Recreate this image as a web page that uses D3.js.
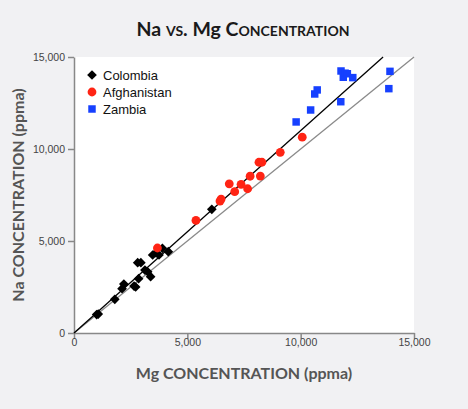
<!DOCTYPE html>
<html>
<head>
<meta charset="utf-8">
<script src="https://cdn.jsdelivr.net/npm/d3@7/dist/d3.min.js"></script>
<style>
  body { margin: 0; background: #f1f1f3; }
  svg { display: block; }
</style>
</head>
<body>
<div id="chart"></div>
<script>
// Mg / Na concentrations (ppma)
const colombiaMg = [1070, 1000, 1800, 2120, 2200, 2650, 2720, 2850, 2810, 2950, 3130, 3250, 3380, 3470, 3620, 3750, 3900, 4160, 6080]
const colombiaNa = [1030, 1000, 1830, 2410, 2660, 2550, 2500, 2950, 3820, 3820, 3420, 3330, 3060, 4240, 4360, 4240, 4600, 4420, 6720]

const afghanMg = [3680, 5380, 6440, 6490, 6850, 7090, 7370, 7660, 7770, 8160, 8220, 8290, 9100, 10070]
const afghanNa = [4620, 6120, 7170, 7280, 8110, 7680, 8080, 7840, 8520, 9280, 8530, 9280, 9820, 10640]

const zambiaMg = [9800, 10440, 10620, 10730, 11770, 11780, 11880, 11960, 12060, 12300, 13890, 13940]
const zambiaNa = [11470, 12120, 12990, 13210, 12570, 14240, 13900, 14120, 14090, 13880, 13280, 14220]

const xTicks = [0, 5000, 10000, 15000]
const yTicks = [0, 5000, 10000, 15000]

// reference lines: Colombia trend (Na = 1.1 Mg) and 1:1 line
const trendLine = [[0, 0], [15000 / 1.1, 15000]]
const unityLine = [[0, 0], [15000, 15000]]

const zip = (xs, ys) => xs.map((x, i) => ({ mg: x, na: ys[i] }))

const W = 468, H = 409
const margin = { top: 57, right: 54, bottom: 76, left: 74 }
const iw = W - margin.left - margin.right
const ih = H - margin.top - margin.bottom

const svg = d3.select("#chart").append("svg")
  .attr("width", W)
  .attr("height", H)

svg.append("rect").attr("width", W).attr("height", H).attr("fill", "#f1f1f3")

// title: element symbols in normal case, the rest in small caps
const title = svg.append("text")
  .attr("x", 243)
  .attr("y", 36)
  .attr("text-anchor", "middle")
  .style("font-family", "Lato, 'Open Sans', sans-serif")
  .style("font-weight", "bold")
  .style("font-size", "19.5px")
  .attr("fill", "#1a1a1a")
title.append("tspan").text("Na ")
title.append("tspan").style("font-variant", "small-caps").text("vs.")
title.append("tspan").text(" Mg ")
title.append("tspan").style("font-variant", "small-caps").text("Concentration")

const g = svg.append("g").attr("transform", `translate(${margin.left},${margin.top})`)

g.append("rect").attr("width", iw).attr("height", ih).attr("fill", "#fff")

const x = d3.scaleLinear().domain([0, 15000]).range([0, iw])
const y = d3.scaleLinear().domain([0, 15000]).range([ih, 0])

const fmt = d3.format(",")

const xAxis = g.append("g")
  .attr("transform", `translate(0,${ih})`)
  .call(d3.axisBottom(x).tickValues(xTicks).tickFormat(fmt).tickSize(6).tickSizeOuter(0))
const yAxis = g.append("g")
  .call(d3.axisLeft(y).tickValues(yTicks).tickFormat(fmt).tickSize(6).tickSizeOuter(0))

;[xAxis, yAxis].forEach(a => {
  a.select(".domain").attr("stroke", "#888").attr("stroke-width", 1.5)
  a.selectAll(".tick line").attr("stroke", "#888").attr("stroke-width", 1.5)
  a.selectAll(".tick text")
    .attr("fill", "#444")
    .style("font-family", "'Liberation Sans', Arial, sans-serif")
    .style("font-size", "10.5px")
})
xAxis.selectAll(".tick text").attr("dy", "0.2em").attr("y", 11)
yAxis.selectAll(".tick text").attr("x", -9)

const line = d3.line().x(d => x(d[0])).y(d => y(d[1]))

g.append("path").attr("d", line(unityLine))
  .attr("fill", "none").attr("stroke", "#8a8a8a").attr("stroke-width", 1.3)
g.append("path").attr("d", line(trendLine))
  .attr("fill", "none").attr("stroke", "#000").attr("stroke-width", 1.3)

const diamond = d3.symbol().type(d3.symbolDiamond2).size(60)
const square = d3.symbol().type(d3.symbolSquare).size(56)

g.append("g").selectAll("path")
  .data(zip(colombiaMg, colombiaNa))
  .join("path")
  .attr("d", diamond)
  .attr("transform", d => `translate(${x(d.mg)},${y(d.na)})`)
  .attr("fill", "#000")

g.append("g").selectAll("circle")
  .data(zip(afghanMg, afghanNa))
  .join("circle")
  .attr("cx", d => x(d.mg))
  .attr("cy", d => y(d.na))
  .attr("r", 4.4)
  .attr("fill", "#ff2414")

g.append("g").selectAll("path")
  .data(zip(zambiaMg, zambiaNa))
  .join("path")
  .attr("d", square)
  .attr("transform", d => `translate(${x(d.mg)},${y(d.na)})`)
  .attr("fill", "#1640ff")

// legend
const legendItems = [
  { name: "Colombia", shape: "diamond", color: "#000" },
  { name: "Afghanistan", shape: "circle", color: "#ff2414" },
  { name: "Zambia", shape: "square", color: "#1640ff" }
]
const legend = g.append("g").attr("transform", "translate(18,18)")
legendItems.forEach((it, i) => {
  const row = legend.append("g").attr("transform", `translate(0,${i * 17})`)
  if (it.shape === "circle") {
    row.append("circle").attr("r", 4.4).attr("fill", it.color)
  } else {
    const s = it.shape === "diamond" ? diamond : square
    row.append("path").attr("d", s).attr("fill", it.color)
  }
  row.append("text")
    .attr("x", 11)
    .attr("y", 4.5)
    .style("font-family", "'Liberation Sans', Arial, sans-serif")
    .style("font-size", "13px")
    .attr("fill", "#111")
    .text(it.name)
})

svg.append("text")
  .attr("x", margin.left + iw / 2)
  .attr("y", 379)
  .attr("text-anchor", "middle")
  .style("font-family", "Lato, 'Open Sans', sans-serif")
  .style("font-weight", "bold")
  .style("font-size", "16px")
  .attr("fill", "#555")
  .text("Mg CONCENTRATION (ppma)")

svg.append("text")
  .attr("transform", `translate(24,${margin.top + ih / 2}) rotate(-90)`)
  .attr("text-anchor", "middle")
  .style("font-family", "Lato, 'Open Sans', sans-serif")
  .style("font-weight", "bold")
  .style("font-size", "16px")
  .attr("fill", "#555")
  .text("Na CONCENTRATION (ppma)")
</script>
</body>
</html>
